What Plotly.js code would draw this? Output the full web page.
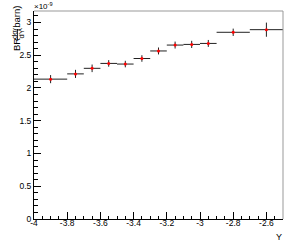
<!DOCTYPE html>
<html>
<head>
<meta charset="utf-8">
<script src="https://cdn.plot.ly/plotly-3.0.1.min.js"></script>
<style>html,body{margin:0;padding:0;background:#fff;}#chart{width:293px;height:245px;}</style>
</head>
<body>
<div id="chart"></div>
<script>
// Bin centres (rapidity Y), half bin widths, values (x 1e-9 barn), errors
const binCenters = [-3.9, -3.75, -3.65, -3.55, -3.45, -3.35, -3.25, -3.15, -3.05, -2.95, -2.8, -2.6];
const binHalfWidths = [0.1, 0.05, 0.05, 0.05, 0.05, 0.05, 0.05, 0.05, 0.05, 0.05, 0.1, 0.1];
const values = [2.135, 2.215, 2.30, 2.375, 2.365, 2.45, 2.565, 2.655, 2.665, 2.68, 2.85, 2.89];
const errors = [0.062, 0.062, 0.058, 0.05, 0.05, 0.05, 0.053, 0.053, 0.055, 0.053, 0.056, 0.108];
const xTickVals = [-4, -3.8, -3.6, -3.4, -3.2, -3, -2.8, -2.6];
const xTickText = ['-4', '-3.8', '-3.6', '-3.4', '-3.2', '-3', '-2.8', '-2.6'];
const yTickVals = [0, 0.5, 1, 1.5, 2, 2.5, 3];
const yTickText = ['0', '0.5', '1', '1.5', '2', '2.5', '3'];

const FAM = 'Liberation Sans, Arial, sans-serif';
const font = {family: FAM, size: 8.5, color: '#000'};

const trace = {
  type: 'scatter',
  mode: 'markers',
  x: binCenters,
  y: values,
  marker: {color: '#ff0000', size: 3},
  error_x: {type: 'data', array: binHalfWidths, visible: true, width: 0, thickness: 1, color: '#222'},
  error_y: {type: 'data', array: errors, visible: true, width: 0, thickness: 1, color: '#222'},
  hoverinfo: 'none'
};

function rotText(text, px, py, size) {
  // px, py: pixel position of text centre in the page
  return {text: text, xref: 'paper', yref: 'paper',
    x: (px - 34) / 249, y: (219 - py) / 208,
    xanchor: 'center', yanchor: 'middle', textangle: -90, showarrow: false,
    font: {family: FAM, size: size, color: '#000'}};
}

const layout = {
  width: 293, height: 245,
  margin: {l: 34, r: 10, t: 11, b: 26, pad: 0},
  paper_bgcolor: '#fff', plot_bgcolor: '#fff',
  showlegend: false,
  font: font,
  xaxis: {
    range: [-4, -2.5], showgrid: false, zeroline: false,
    showline: true, linecolor: '#000', linewidth: 1,
    ticks: 'inside', ticklen: 7, tickcolor: '#000', tickwidth: 1,
    tickmode: 'array', tickvals: xTickVals, ticktext: xTickText,
    tickfont: font, ticklabelstandoff: -4,
    minor: {dtick: 0.05, ticks: 'inside', ticklen: 3.5, tickcolor: '#000', tickwidth: 1, showgrid: false}
  },
  yaxis: {
    range: [0, 3.175], showgrid: false, zeroline: false,
    showline: true, linecolor: '#000', linewidth: 1,
    ticks: 'inside', ticklen: 7, tickcolor: '#000', tickwidth: 1,
    tickmode: 'array', tickvals: yTickVals, ticktext: yTickText,
    tickfont: font,
    minor: {dtick: 0.1, ticks: 'inside', ticklen: 3.5, tickcolor: '#000', tickwidth: 1, showgrid: false}
  },
  shapes: [
    {type: 'line', xref: 'paper', yref: 'paper', x0: 0, x1: 1, y0: 1, y1: 1, line: {color: '#999', width: 1}},
    {type: 'line', xref: 'paper', yref: 'paper', x0: 1, x1: 1, y0: 0, y1: 1, line: {color: '#999', width: 1}},
    // fraction bar of the y title (dσ over dY)
    {type: 'line', xref: 'paper', yref: 'paper', x0: (17.5 - 34) / 249, x1: (17.5 - 34) / 249, y0: (219 - 40) / 208, y1: (219 - 29) / 208, line: {color: '#000', width: 0.8}}
  ],
  annotations: [
    {text: '×10<sup>-9</sup>', xref: 'paper', yref: 'paper', x: 0, y: 1, xanchor: 'left', yanchor: 'bottom', showarrow: false, font: {family: FAM, size: 8, color: '#000'}, xshift: -2, yshift: -2},
    {text: 'Y', xref: 'paper', yref: 'paper', x: 1, y: 0, xanchor: 'right', yanchor: 'top', showarrow: false, font: {family: FAM, size: 9, color: '#000'}, xshift: 1, yshift: -11},
    rotText('(barn)', 17, 19, 9.5),
    rotText('dσ', 14.5, 34.5, 7.5),
    rotText('dY', 21, 34.5, 7.5),
    rotText('BR', 17, 45, 9.5)
  ]
};

Plotly.newPlot('chart', [trace], layout, {staticPlot: true, displayModeBar: false});
</script>
</body>
</html>
